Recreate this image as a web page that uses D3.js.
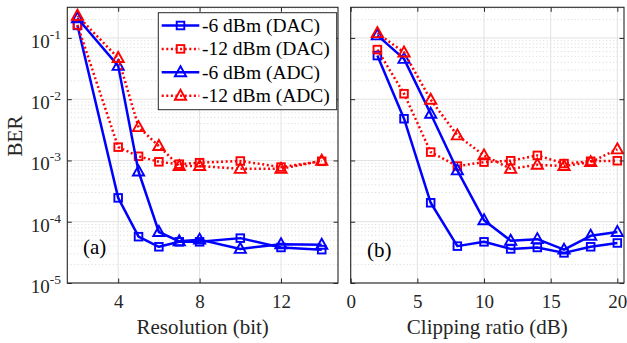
<!DOCTYPE html>
<html>
<head>
<meta charset="utf-8">
<script src="https://cdn.jsdelivr.net/npm/d3@7"></script>
<style>
  body { margin: 0; background: #fff; }
</style>
</head>
<body>
<svg id="chart" width="627" height="343"></svg>
<script>
// data
var resBits = [2, 4, 5, 6, 7, 8, 10, 12, 14];
var resDac6  = [0.16, 2.45e-4, 5.7e-5, 3.9e-5, 4.7e-5, 4.7e-5, 5.4e-5, 3.8e-5, 3.5e-5];
var resDac12 = [0.163, 1.65e-3, 1.17e-3, 9.5e-4, 8.7e-4, 9.2e-4, 9.8e-4, 7.8e-4, 9.7e-4];
var resAdc6  = [0.21, 0.035, 6.6e-4, 6.8e-5, 4.8e-5, 5.1e-5, 3.6e-5, 4.3e-5, 4.2e-5];
var resAdc12 = [0.23, 0.047, 3.5e-3, 1.72e-3, 8.1e-4, 8.1e-4, 7.3e-4, 7.3e-4, 9.9e-4];

var clipRatio = [2, 4, 6, 8, 10, 12, 14, 16, 18, 20];
var clipDac6  = [0.0515, 4.8e-3, 2.04e-4, 4.0e-5, 4.7e-5, 3.6e-5, 3.8e-5, 3.1e-5, 3.9e-5, 4.5e-5];
var clipDac12 = [0.0645, 0.0123, 1.37e-3, 8.1e-4, 9.4e-4, 9.9e-4, 1.21e-3, 8.9e-4, 9.7e-4, 9.9e-4];
var clipAdc6  = [0.11, 0.0455, 5.8e-3, 6.9e-4, 1.06e-4, 4.9e-5, 5.2e-5, 3.5e-5, 5.9e-5, 6.8e-5];
var clipAdc12 = [0.12, 0.058, 9.8e-3, 2.57e-3, 1.21e-3, 7.3e-4, 8.5e-4, 8.1e-4, 9.4e-4, 1.52e-3];

var seriesNames = ["-6 dBm (DAC)", "-12 dBm (DAC)", "-6 dBm (ADC)", "-12 dBm (ADC)"];
var yTicks = [1e-5, 1e-4, 1e-3, 1e-2, 1e-1];
var resTicks = [4, 8, 12];
var clipTicks = [0, 5, 10, 15, 20];

var styles = [
  { color: "#0000ff", dash: null, marker: "square" },
  { color: "#ff0000", dash: "2,2.6", marker: "square" },
  { color: "#0000ff", dash: null, marker: "triangle" },
  { color: "#ff0000", dash: "2,2.6", marker: "triangle" }
];

var FONT = "'Liberation Serif', Tinos, 'DejaVu Serif', serif";
var svg = d3.select("#chart").attr("font-family", FONT);
var plotTop = 7.3, plotBottom = 283;

var y = d3.scaleLog().domain([1e-5, Math.pow(10, -0.5)]).range([plotBottom, plotTop]);

function drawMarker(g, kind, cx, cy, color) {
  if (kind == "square") {
    g.append("rect")
      .attr("x", cx - 3.8).attr("y", cy - 3.8)
      .attr("width", 7.6).attr("height", 7.6)
      .attr("fill", "none").attr("stroke", color).attr("stroke-width", 1.9);
  } else {
    g.append("path")
      .attr("d", "M" + cx + "," + (cy - 6) + "L" + (cx + 5.6) + "," + (cy + 4) + "L" + (cx - 5.6) + "," + (cy + 4) + "Z")
      .attr("fill", "none").attr("stroke", color).attr("stroke-width", 1.9)
      .attr("stroke-linejoin", "miter");
  }
}

function panel(x0, x1, xDomain, xTicks, xs, allSeries, xLabel, tag, showY) {
  var x = d3.scaleLinear().domain(xDomain).range([x0, x1]);
  var g = svg.append("g");

  // minor grid (dotted) for the log axis
  var minors = [];
  for (var d = -5; d < 0; d++) {
    for (var k = 2; k <= 9; k++) {
      var v = k * Math.pow(10, d);
      if (v < y.domain()[1]) minors.push(v);
    }
  }
  g.selectAll(".minor").data(minors).enter().append("line")
    .attr("x1", x0).attr("x2", x1)
    .attr("y1", function(d) { return y(d); }).attr("y2", function(d) { return y(d); })
    .attr("stroke", "#cfcfcf").attr("stroke-width", 0.8).attr("stroke-dasharray", "1,2.5");

  // major grid
  g.selectAll(".hmaj").data(yTicks).enter().append("line")
    .attr("x1", x0).attr("x2", x1)
    .attr("y1", function(d) { return y(d); }).attr("y2", function(d) { return y(d); })
    .attr("stroke", "#e2e2e2").attr("stroke-width", 1);
  g.selectAll(".vmaj").data(xTicks).enter().append("line")
    .attr("x1", function(d) { return x(d); }).attr("x2", function(d) { return x(d); })
    .attr("y1", plotTop).attr("y2", plotBottom)
    .attr("stroke", "#e2e2e2").attr("stroke-width", 1);

  // lines
  var line = d3.line()
    .x(function(d, i) { return x(xs[i]); })
    .y(function(d) { return y(d); });

  allSeries.forEach(function(vals, si) {
    var st = styles[si];
    g.append("path")
      .attr("d", line(vals))
      .attr("fill", "none")
      .attr("stroke", st.color)
      .attr("stroke-width", 2.5)
      .attr("stroke-dasharray", st.dash)
      .attr("stroke-linejoin", "round");
    vals.forEach(function(v, i) {
      drawMarker(g, st.marker, x(xs[i]), y(v), st.color);
    });
  });

  // axes with inward ticks on all sides
  var axisCol = "#262626";
  var ax = g.append("g").attr("transform", "translate(0," + plotBottom + ")")
    .call(d3.axisBottom(x).tickValues(xTicks).tickSizeInner(-4.5).tickSizeOuter(0).tickPadding(12));
  ax.attr("font-family", FONT);
  ax.select(".domain").remove();
  ax.selectAll("line").attr("stroke", axisCol);
  ax.selectAll("text").attr("font-size", 19).attr("fill", "#262626");

  var axTop = g.append("g").attr("transform", "translate(0," + plotTop + ")")
    .call(d3.axisTop(x).tickValues(xTicks).tickSizeInner(-4.5).tickSizeOuter(0).tickFormat(""));
  axTop.select(".domain").remove();
  axTop.selectAll("line").attr("stroke", axisCol);

  var ayL = g.append("g").attr("transform", "translate(" + x0 + ",0)")
    .call(d3.axisLeft(y).tickValues(yTicks).tickSizeInner(-4.5).tickSizeOuter(0).tickFormat(""));
  ayL.select(".domain").remove();
  ayL.selectAll("line").attr("stroke", axisCol);

  var ayR = g.append("g").attr("transform", "translate(" + x1 + ",0)")
    .call(d3.axisRight(y).tickValues(yTicks).tickSizeInner(-4.5).tickSizeOuter(0).tickFormat(""));
  ayR.select(".domain").remove();
  ayR.selectAll("line").attr("stroke", axisCol);

  if (showY) {
    yTicks.forEach(function(t) {
      var txt = g.append("text")
        .attr("x", 61).attr("y", y(t) + 10)
        .attr("text-anchor", "end")
        .attr("fill", "#262626")
        .attr("font-size", 19);
      txt.append("tspan").text("10");
      txt.append("tspan").attr("dy", -9).attr("font-size", 13.5).text(String(Math.round(Math.log10(t))));
    });
  }

  g.append("rect")
    .attr("x", x0).attr("y", plotTop)
    .attr("width", x1 - x0).attr("height", plotBottom - plotTop)
    .attr("fill", "none").attr("stroke", axisCol).attr("stroke-width", 1.1);

  g.append("text")
    .attr("x", (x0 + x1) / 2).attr("y", 334)
    .attr("text-anchor", "middle")
    .attr("font-size", 21).attr("fill", "#262626")
    .text(xLabel);

  g.append("text")
    .attr("x", tag.x).attr("y", tag.y)
    .attr("font-size", 21).attr("fill", "#000")
    .text(tag.text);

  return g;
}

panel(67.3, 338, [1.5, 14.8], resTicks, resBits,
  [resDac6, resDac12, resAdc6, resAdc12], "Resolution (bit)", { x: 83, y: 254, text: "(a)" }, true);
panel(350.7, 624, [0, 20.5], clipTicks, clipRatio,
  [clipDac6, clipDac12, clipAdc6, clipAdc12], "Clipping ratio (dB)", { x: 367, y: 257, text: "(b)" }, false);

svg.append("text")
  .attr("transform", "translate(22,136) rotate(-90)")
  .attr("text-anchor", "middle")
  .attr("font-size", 21).attr("fill", "#262626")
  .text("BER");

// legend
var leg = svg.append("g");
leg.append("rect")
  .attr("x", 158.3).attr("y", 12.7)
  .attr("width", 178.4).attr("height", 97)
  .attr("fill", "#fff").attr("stroke", "#262626").attr("stroke-width", 1);

seriesNames.forEach(function(name, i) {
  var st = styles[i];
  var ly = 25.5 + i * 23.4;
  leg.append("line")
    .attr("x1", 161.7).attr("x2", 199.3).attr("y1", ly).attr("y2", ly)
    .attr("stroke", st.color).attr("stroke-width", 2.5)
    .attr("stroke-dasharray", st.dash);
  drawMarker(leg, st.marker, 180.5, ly, st.color);
  leg.append("text")
    .attr("x", 202).attr("y", ly + 6.5)
    .attr("font-size", 19.5).attr("fill", "#000")
    .text(name);
});
</script>
</body>
</html>
